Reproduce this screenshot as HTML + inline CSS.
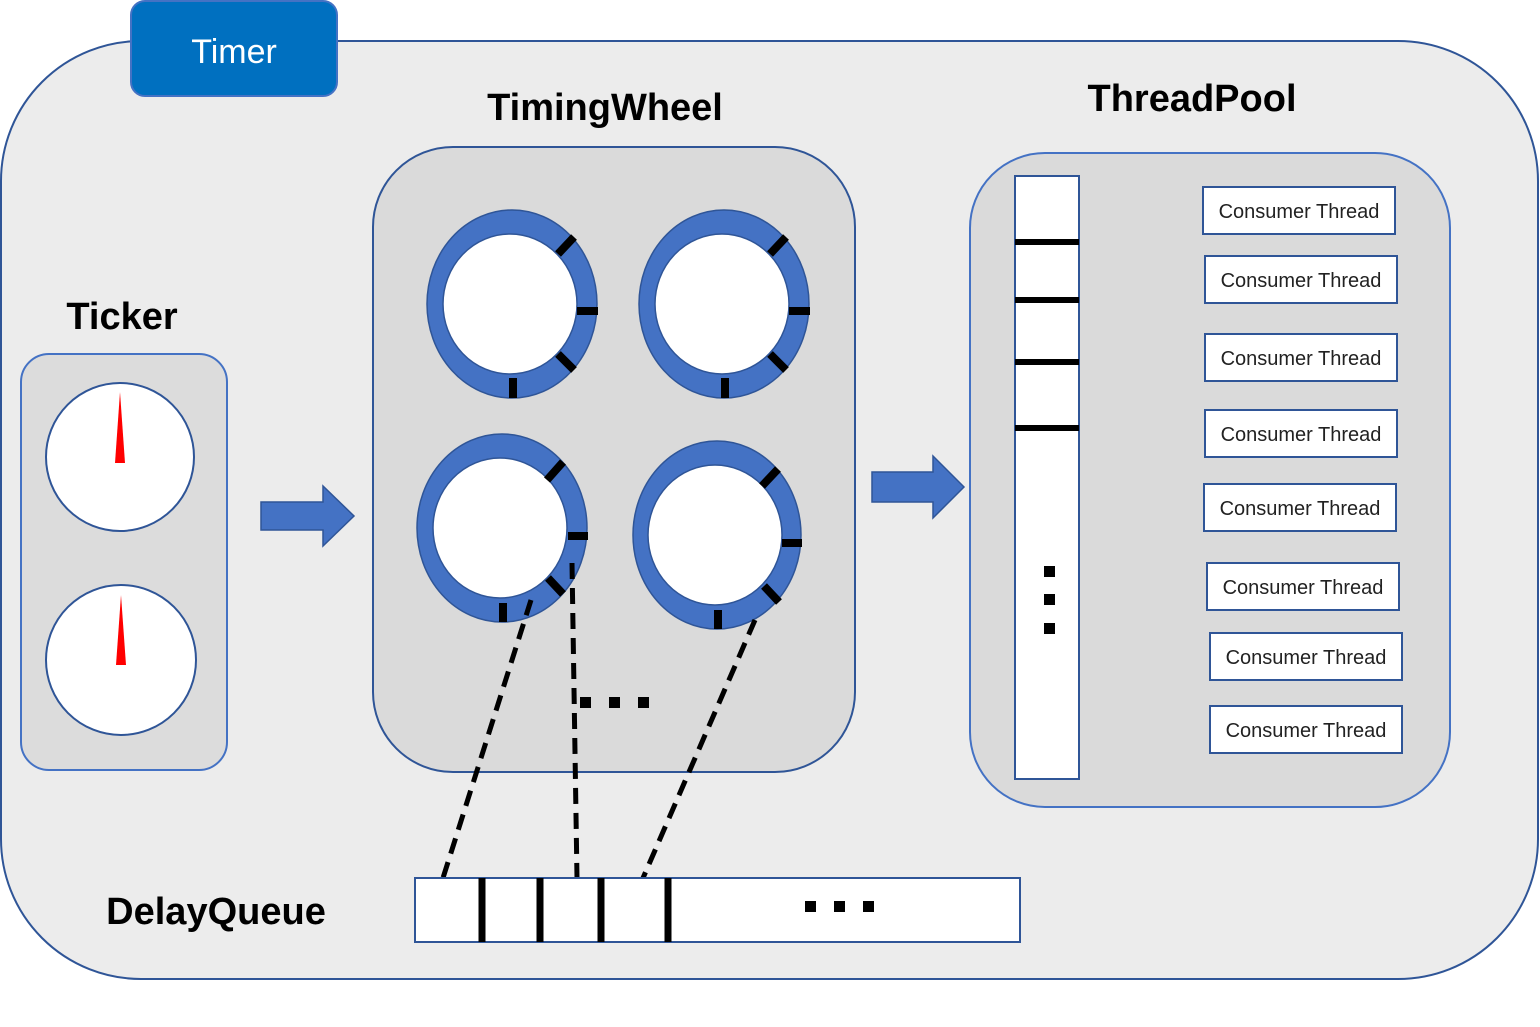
<!DOCTYPE html>
<html><head><meta charset="utf-8"><style>html,body{margin:0;padding:0;background:#fff}svg{display:block}</style></head>
<body>
<svg width="1540" height="1027" viewBox="0 0 1540 1027" xmlns="http://www.w3.org/2000/svg" font-family="Liberation Sans, sans-serif">
<rect x="1" y="41" width="1537" height="938" rx="140" fill="#ececec" stroke="#2f5597" stroke-width="2"/>
<rect x="131" y="1" width="206" height="95" rx="14" fill="#0070c0" stroke="#4472c4" stroke-width="2"/>
<text x="234" y="63" font-size="34" fill="#fff" text-anchor="middle">Timer</text>

<text x="122" y="329" font-size="38" font-weight="bold" text-anchor="middle">Ticker</text>
<text x="605" y="120" font-size="38" font-weight="bold" text-anchor="middle">TimingWheel</text>
<text x="1192" y="111" font-size="38" font-weight="bold" text-anchor="middle">ThreadPool</text>
<text x="216" y="924" font-size="38" font-weight="bold" text-anchor="middle">DelayQueue</text>

<rect x="21" y="354" width="206" height="416" rx="28" fill="#dcdcdc" stroke="#4472c4" stroke-width="2"/>
<circle cx="120" cy="457" r="74" fill="#fff" stroke="#2f5597" stroke-width="2"/>
<polygon points="120,392 115,463 125,463" fill="#f00"/>
<circle cx="121" cy="660" r="75" fill="#fff" stroke="#2f5597" stroke-width="2"/>
<polygon points="121,595 116,665 126,665" fill="#f00"/>

<polygon points="261,502 323,502 323,486 354,516 323,546 323,530 261,530" fill="#4472c4" stroke="#2f5597" stroke-width="1.5"/>

<rect x="373" y="147" width="482" height="625" rx="80" fill="#dadada" stroke="#2f5597" stroke-width="2"/>
<g stroke="#2f5597" stroke-width="1.5">
<ellipse cx="512" cy="304" rx="85" ry="94" fill="#4472c4"/>
<ellipse cx="510" cy="304" rx="67" ry="70" fill="#fff"/>
<ellipse cx="724" cy="304" rx="85" ry="94" fill="#4472c4"/>
<ellipse cx="722" cy="304" rx="67" ry="70" fill="#fff"/>
<ellipse cx="502" cy="528" rx="85" ry="94" fill="#4472c4"/>
<ellipse cx="500" cy="528" rx="67" ry="70" fill="#fff"/>
<ellipse cx="717" cy="535" rx="84" ry="94" fill="#4472c4"/>
<ellipse cx="715" cy="535" rx="67" ry="70" fill="#fff"/>
</g>
<g stroke="#000" stroke-width="8">
<line x1="558" y1="254" x2="574" y2="237"/><line x1="577" y1="311" x2="598" y2="311"/><line x1="558" y1="354" x2="574" y2="370"/><line x1="513" y1="378" x2="513" y2="398"/>
<line x1="770" y1="254" x2="786" y2="237"/><line x1="789" y1="311" x2="810" y2="311"/><line x1="770" y1="354" x2="786" y2="370"/><line x1="725" y1="378" x2="725" y2="398"/>
<line x1="547" y1="480" x2="563" y2="462"/><line x1="568" y1="536" x2="588" y2="536"/><line x1="548" y1="578" x2="563" y2="594"/><line x1="503" y1="603" x2="503" y2="622"/>
<line x1="762" y1="486" x2="778" y2="469"/><line x1="782" y1="543" x2="802" y2="543"/><line x1="764" y1="586" x2="779" y2="602"/><line x1="718" y1="610" x2="718" y2="629"/>
</g>
<g stroke="#000" stroke-width="5" stroke-dasharray="16 9" fill="none">
<line x1="531" y1="600" x2="443" y2="878"/>
<line x1="572" y1="563" x2="577" y2="878"/>
<line x1="755" y1="620" x2="643" y2="878"/>
</g>
<g fill="#000"><rect x="580" y="697" width="11" height="11"/><rect x="609" y="697" width="11" height="11"/><rect x="638" y="697" width="11" height="11"/></g>

<polygon points="872,472 933,472 933,456 964,487 933,518 933,502 872,502" fill="#4472c4" stroke="#2f5597" stroke-width="1.5"/>

<rect x="970" y="153" width="480" height="654" rx="75" fill="#dadada" stroke="#4472c4" stroke-width="2"/>
<rect x="1015" y="176" width="64" height="603" fill="#fff" stroke="#2f5597" stroke-width="2"/>
<g stroke="#000" stroke-width="6"><line x1="1015" y1="242" x2="1079" y2="242"/><line x1="1015" y1="300" x2="1079" y2="300"/><line x1="1015" y1="362" x2="1079" y2="362"/><line x1="1015" y1="428" x2="1079" y2="428"/></g>
<g fill="#000"><rect x="1044" y="566" width="11" height="11"/><rect x="1044" y="594" width="11" height="11"/><rect x="1044" y="623" width="11" height="11"/></g>
<g fill="#fff" stroke="#2f5597" stroke-width="2">
<rect x="1203" y="187" width="192" height="47"/><rect x="1205" y="256" width="192" height="47"/><rect x="1205" y="334" width="192" height="47"/><rect x="1205" y="410" width="192" height="47"/><rect x="1204" y="484" width="192" height="47"/><rect x="1207" y="563" width="192" height="47"/><rect x="1210" y="633" width="192" height="47"/><rect x="1210" y="706" width="192" height="47"/>
</g>
<g font-size="20" fill="#222" text-anchor="middle">
<text x="1299" y="218">Consumer Thread</text><text x="1301" y="287">Consumer Thread</text><text x="1301" y="365">Consumer Thread</text><text x="1301" y="441">Consumer Thread</text><text x="1300" y="515">Consumer Thread</text><text x="1303" y="594">Consumer Thread</text><text x="1306" y="664">Consumer Thread</text><text x="1306" y="737">Consumer Thread</text>
</g>

<rect x="415" y="878" width="605" height="64" fill="#fff" stroke="#2f5597" stroke-width="2"/>
<g stroke="#000" stroke-width="7"><line x1="482" y1="878" x2="482" y2="942"/><line x1="540" y1="878" x2="540" y2="942"/><line x1="601" y1="878" x2="601" y2="942"/><line x1="668" y1="878" x2="668" y2="942"/></g>
<g fill="#000"><rect x="805" y="901" width="11" height="11"/><rect x="834" y="901" width="11" height="11"/><rect x="863" y="901" width="11" height="11"/></g>
</svg>
</body></html>
